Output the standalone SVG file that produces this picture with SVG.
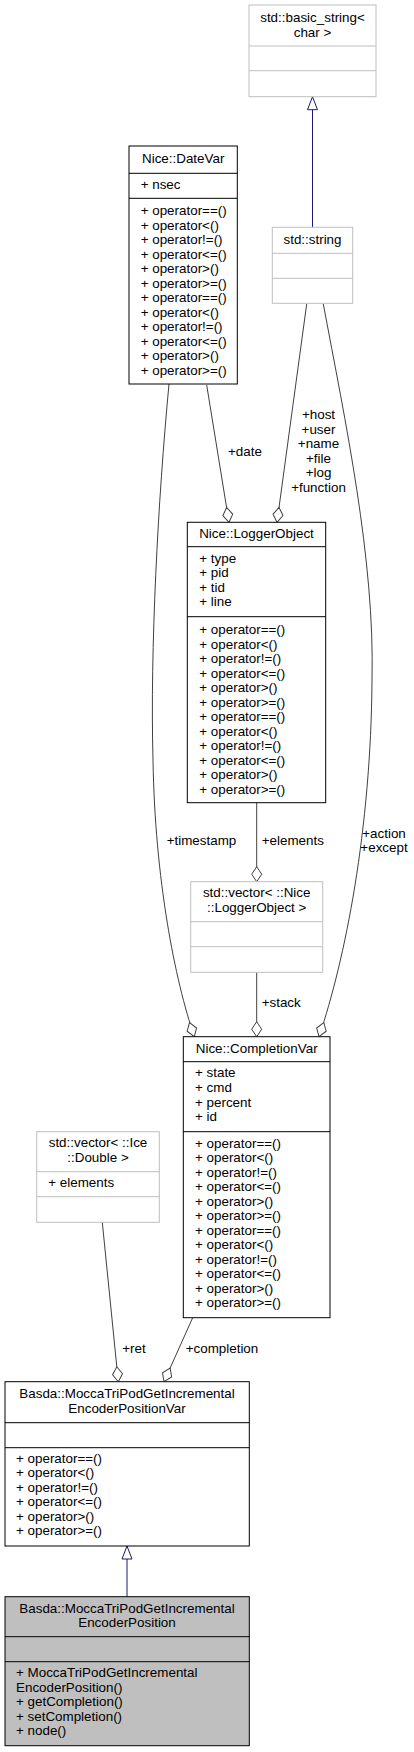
<svg xmlns="http://www.w3.org/2000/svg" width="414" height="1752" viewBox="0 0 414 1752">
<style>
.bx{fill:#fff;stroke:#000;stroke-width:1}
.gx{fill:#fff;stroke:#bfbfbf;stroke-width:1}
.sx{fill:#bfbfbf;stroke:#000;stroke-width:1}
.sp{stroke:#000;stroke-width:1}
.gp{stroke:#bfbfbf;stroke-width:1}
text{font-family:"Liberation Sans",Arial,Helvetica,sans-serif;font-size:13.4px;fill:#000}
.c{text-anchor:middle}
.e{fill:none;stroke:#404040;stroke-width:1}
.i{fill:none;stroke:#191970;stroke-width:1}
</style>
<defs>
<marker id="dia" markerUnits="userSpaceOnUse" orient="auto" refX="16" refY="6" markerWidth="18" markerHeight="12" viewBox="0 0 18 12" overflow="visible">
<path d="M16,6 L8.5,1 L1,6 L8.5,11 Z" fill="#fff" stroke="#404040" stroke-width="1"/>
</marker>
<marker id="tri" markerUnits="userSpaceOnUse" orient="auto" refX="14" refY="6" markerWidth="16" markerHeight="12" viewBox="0 0 16 12" overflow="visible">
<path d="M14,6 L1,1 L1,11 Z" fill="#fff" stroke="#191970" stroke-width="1"/>
</marker>
</defs>

<g id="connectors">
<path class="i" d="M312.5,227.3 L312.5,96.7" marker-end="url(#tri)"/>
<path class="i" d="M127,1596.7 L127,1546" marker-end="url(#tri)"/>
<path class="e" d="M206.7,385 L229,522.3" marker-end="url(#dia)"/>
<path class="e" d="M306.7,304 L277,522.3" marker-end="url(#dia)"/>
<path class="e" d="M169,384 C158,500 150,650 153,760 C155,880 175,980 194.3,1036.7" marker-end="url(#dia)"/>
<path class="e" d="M323.3,304 C345,420 375,560 372,680 C371,830 345,960 319,1036.7" marker-end="url(#dia)"/>
<path class="e" d="M256.7,802.7 L256.7,881.7" marker-end="url(#dia)"/>
<path class="e" d="M256.7,972.3 L256.7,1036.7" marker-end="url(#dia)"/>
<path class="e" d="M102.3,1222.3 L118.3,1381.7" marker-end="url(#dia)"/>
<path class="e" d="M192.7,1317.7 L164,1381.7" marker-end="url(#dia)"/>
<text x="228" y="456">+date</text>
<text class="c" x="318.5" y="419">+host</text>
<text class="c" x="318.5" y="433.5">+user</text>
<text class="c" x="318.5" y="448">+name</text>
<text class="c" x="318.5" y="462.5">+file</text>
<text class="c" x="318.5" y="477">+log</text>
<text class="c" x="318.5" y="491.5">+function</text>
<text x="166.7" y="845">+timestamp</text>
<text x="261.7" y="845">+elements</text>
<text class="c" x="384" y="837.5">+action</text>
<text class="c" x="384" y="852">+except</text>
<text x="261.7" y="1007.3">+stack</text>
<text x="122.3" y="1352.7">+ret</text>
<text x="185.7" y="1352.7">+completion</text>
</g>

<g id="basic_string">
<rect class="gx" x="249" y="5" width="127" height="91.7"/>
<line class="gp" x1="249" y1="46" x2="376" y2="46"/>
<line class="gp" x1="249" y1="70.7" x2="376" y2="70.7"/>
<text class="c" x="312.5" y="21.7">std::basic_string&lt;</text>
<text class="c" x="312.5" y="36.7">char &gt;</text>
</g>

<g id="std_string">
<rect class="gx" x="272.3" y="227.3" width="80.4" height="76"/>
<line class="gp" x1="272.3" y1="253.3" x2="352.7" y2="253.3"/>
<line class="gp" x1="272.3" y1="278.3" x2="352.7" y2="278.3"/>
<text class="c" x="312.5" y="244">std::string</text>
</g>

<g id="DateVar">
<rect class="bx" x="129" y="146" width="108.3" height="238"/>
<line class="sp" x1="129" y1="173.3" x2="237.3" y2="173.3"/>
<line class="sp" x1="129" y1="198.3" x2="237.3" y2="198.3"/>
<text class="c" x="183.2" y="163.3">Nice::DateVar</text>
<text x="140.7" y="189">+ nsec</text>
<text x="140.7" y="215">+ operator==()</text>
<text x="140.7" y="229.5">+ operator&lt;()</text>
<text x="140.7" y="244">+ operator!=()</text>
<text x="140.7" y="258.5">+ operator&lt;=()</text>
<text x="140.7" y="273">+ operator&gt;()</text>
<text x="140.7" y="287.5">+ operator&gt;=()</text>
<text x="140.7" y="302">+ operator==()</text>
<text x="140.7" y="316.5">+ operator&lt;()</text>
<text x="140.7" y="331">+ operator!=()</text>
<text x="140.7" y="345.5">+ operator&lt;=()</text>
<text x="140.7" y="360">+ operator&gt;()</text>
<text x="140.7" y="374.5">+ operator&gt;=()</text>
</g>

<g id="LoggerObject">
<rect class="bx" x="187.3" y="522.3" width="138.4" height="280.4"/>
<line class="sp" x1="187.3" y1="546.7" x2="325.7" y2="546.7"/>
<line class="sp" x1="187.3" y1="616.7" x2="325.7" y2="616.7"/>
<text class="c" x="256.5" y="538.3">Nice::LoggerObject</text>
<text x="199.3" y="562.5">+ type</text>
<text x="199.3" y="577">+ pid</text>
<text x="199.3" y="591.5">+ tid</text>
<text x="199.3" y="606">+ line</text>
<text x="199.3" y="634">+ operator==()</text>
<text x="199.3" y="648.5">+ operator&lt;()</text>
<text x="199.3" y="663">+ operator!=()</text>
<text x="199.3" y="677.5">+ operator&lt;=()</text>
<text x="199.3" y="692">+ operator&gt;()</text>
<text x="199.3" y="706.5">+ operator&gt;=()</text>
<text x="199.3" y="721">+ operator==()</text>
<text x="199.3" y="735.5">+ operator&lt;()</text>
<text x="199.3" y="750">+ operator!=()</text>
<text x="199.3" y="764.5">+ operator&lt;=()</text>
<text x="199.3" y="779">+ operator&gt;()</text>
<text x="199.3" y="793.5">+ operator&gt;=()</text>
</g>

<g id="vector_LoggerObject">
<rect class="gx" x="190.7" y="881.7" width="132" height="90.6"/>
<line class="gp" x1="190.7" y1="921.7" x2="322.7" y2="921.7"/>
<line class="gp" x1="190.7" y1="946.7" x2="322.7" y2="946.7"/>
<text class="c" x="256.7" y="897.3">std::vector&lt; ::Nice</text>
<text class="c" x="256.7" y="912.3">::LoggerObject &gt;</text>
</g>

<g id="CompletionVar">
<rect class="bx" x="183.3" y="1036.7" width="146.7" height="281"/>
<line class="sp" x1="183.3" y1="1061.7" x2="330" y2="1061.7"/>
<line class="sp" x1="183.3" y1="1131.7" x2="330" y2="1131.7"/>
<text class="c" x="256.7" y="1052.7">Nice::CompletionVar</text>
<text x="195" y="1077.3">+ state</text>
<text x="195" y="1092">+ cmd</text>
<text x="195" y="1106.5">+ percent</text>
<text x="195" y="1121">+ id</text>
<text x="195" y="1147.5">+ operator==()</text>
<text x="195" y="1162">+ operator&lt;()</text>
<text x="195" y="1176.5">+ operator!=()</text>
<text x="195" y="1191">+ operator&lt;=()</text>
<text x="195" y="1205.5">+ operator&gt;()</text>
<text x="195" y="1220">+ operator&gt;=()</text>
<text x="195" y="1234.5">+ operator==()</text>
<text x="195" y="1249">+ operator&lt;()</text>
<text x="195" y="1263.5">+ operator!=()</text>
<text x="195" y="1278">+ operator&lt;=()</text>
<text x="195" y="1292.5">+ operator&gt;()</text>
<text x="195" y="1307">+ operator&gt;=()</text>
</g>

<g id="vector_Double">
<rect class="gx" x="36.7" y="1131.7" width="122.6" height="90.6"/>
<line class="gp" x1="36.7" y1="1171.7" x2="159.3" y2="1171.7"/>
<line class="gp" x1="36.7" y1="1196.7" x2="159.3" y2="1196.7"/>
<text class="c" x="98" y="1147.3">std::vector&lt; ::Ice</text>
<text class="c" x="98" y="1162.3">::Double &gt;</text>
<text x="48.3" y="1187.3">+ elements</text>
</g>

<g id="MoccaTriPodVar">
<rect class="bx" x="5" y="1381.7" width="244.3" height="164.3"/>
<line class="sp" x1="5" y1="1422.7" x2="249.3" y2="1422.7"/>
<line class="sp" x1="5" y1="1447.7" x2="249.3" y2="1447.7"/>
<text class="c" x="127" y="1398.3">Basda::MoccaTriPodGetIncremental</text>
<text class="c" x="127" y="1412.7">EncoderPositionVar</text>
<text x="16" y="1462.7">+ operator==()</text>
<text x="16" y="1477.2">+ operator&lt;()</text>
<text x="16" y="1491.7">+ operator!=()</text>
<text x="16" y="1506.2">+ operator&lt;=()</text>
<text x="16" y="1520.7">+ operator&gt;()</text>
<text x="16" y="1535.2">+ operator&gt;=()</text>
</g>

<g id="MoccaTriPod">
<rect class="sx" x="5" y="1596.7" width="244.3" height="149"/>
<line class="sp" x1="5" y1="1636.7" x2="249.3" y2="1636.7"/>
<line class="sp" x1="5" y1="1661.7" x2="249.3" y2="1661.7"/>
<text class="c" x="127" y="1612.7">Basda::MoccaTriPodGetIncremental</text>
<text class="c" x="127" y="1627">EncoderPosition</text>
<text x="16" y="1677.3">+ MoccaTriPodGetIncremental</text>
<text x="16" y="1691.8">EncoderPosition()</text>
<text x="16" y="1706.3">+ getCompletion()</text>
<text x="16" y="1720.8">+ setCompletion()</text>
<text x="16" y="1735.3">+ node()</text>
</g>
</svg>
